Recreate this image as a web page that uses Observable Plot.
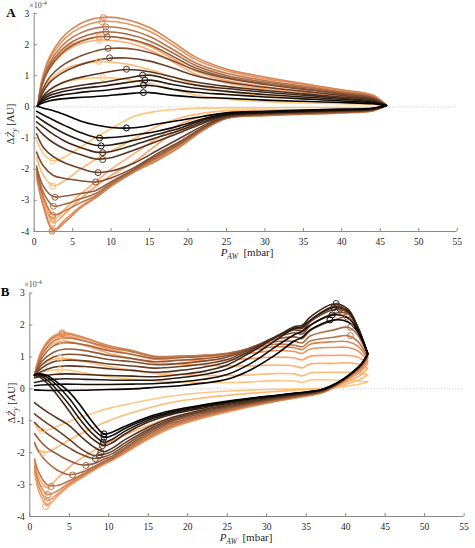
<!DOCTYPE html>
<html><head><meta charset="utf-8">
<script src="https://cdn.jsdelivr.net/npm/d3@7"></script>
<script src="https://cdn.jsdelivr.net/npm/@observablehq/plot@0.6"></script>
<style>
body{margin:0;background:#fff;}
#wrap{position:relative;width:475px;height:548px;}
.panel{position:absolute;left:0;}
#wrap svg, #wrap svg text, #wrap svg tspan{font-family:"Liberation Serif","Times New Roman",serif !important;}
</style></head><body><div id="wrap"></div>
<script>
// ---------- shared ----------
const xTicks = [0,5,10,15,20,25,30,35,40,45,50,55];
const yTicks = [-4,-3,-2,-1,0,1,2,3];

// ---------- Panel A ----------
const xUpA = [0.5, 1, 2, 3.5, 5, 7, 9, 12, 15, 18, 21, 25, 30, 35, 40, 44, 45.8];
const upperA = [
 [0.05,0.12,0.2,0.26,0.29,0.32,0.35,0.42,0.46,0.37,0.31,0.28,0.22,0.18,0.14,0.1,0.04],
 [0.06,0.17,0.29,0.38,0.43,0.49,0.53,0.62,0.69,0.57,0.47,0.4,0.32,0.26,0.19,0.13,0.05],
 [0.06,0.22,0.37,0.48,0.55,0.62,0.67,0.78,0.86,0.72,0.6,0.5,0.4,0.32,0.24,0.16,0.05],
 [0.06,0.26,0.44,0.57,0.65,0.73,0.79,0.92,1.02,0.85,0.7,0.59,0.47,0.38,0.28,0.19,0.05],
 [0.05,0.3,0.55,0.76,0.89,1.0,1.1,1.2,1.13,0.96,0.8,0.66,0.53,0.42,0.32,0.22,0.05],
 [0.05,0.4,0.78,1.07,1.26,1.43,1.54,1.57,1.47,1.25,1.0,0.8,0.63,0.5,0.37,0.25,0.05],
 [0.05,0.5,0.95,1.3,1.52,1.72,1.85,1.88,1.75,1.48,1.18,0.92,0.72,0.56,0.41,0.28,0.05],
 [0.05,0.68,1.25,1.7,1.98,2.18,2.26,2.2,2.0,1.63,1.25,0.95,0.75,0.59,0.43,0.3,0.05],
 [0.05,0.72,1.33,1.81,2.1,2.31,2.41,2.34,2.12,1.74,1.33,1.01,0.8,0.63,0.46,0.31,0.05],
 [0.05,0.77,1.41,1.93,2.24,2.47,2.57,2.5,2.26,1.85,1.41,1.08,0.85,0.67,0.49,0.33,0.05],
 [0.05,0.87,1.6,2.18,2.52,2.78,2.88,2.81,2.55,2.09,1.6,1.22,0.96,0.75,0.55,0.38,0.05],
 [0.05,0.83,1.52,2.07,2.4,2.65,2.75,2.68,2.43,1.99,1.52,1.16,0.91,0.72,0.52,0.36,0.05],
 [0.05,0.7,1.3,1.75,2.02,2.2,2.26,2.18,1.95,1.55,1.15,0.85,0.65,0.5,0.36,0.25,0.05],
 [0.05,0.66,1.22,1.66,1.92,2.1,2.15,2.07,1.83,1.45,1.05,0.77,0.58,0.45,0.32,0.22,0.05],
 [0.05,0.45,0.85,1.15,1.32,1.42,1.45,1.38,1.2,0.96,0.72,0.5,0.36,0.27,0.2,0.14,0.05],
 [0.05,0.3,0.55,0.74,0.85,0.92,0.94,0.88,0.75,0.56,0.38,0.25,0.17,0.13,0.1,0.08,0.05]
];
const xLoA = [45.8, 44, 40, 35, 30, 25, 22, 19, 16, 13, 10, 8, 6, 4, 2.5, 1.2, 0.3];
const lowerA = [
 [0.04,-0.04,-0.07,-0.1,-0.14,-0.19,-0.3,-0.43,-0.55,-0.67,-0.66,-0.58,-0.45,-0.25,-0.12,-0.04,0.03],
 [0.05,-0.05,-0.09,-0.13,-0.17,-0.23,-0.38,-0.6,-0.78,-0.9,-0.98,-0.98,-0.82,-0.6,-0.42,-0.26,-0.14],
 [0.05,-0.06,-0.1,-0.14,-0.18,-0.25,-0.42,-0.68,-0.88,-1.07,-1.22,-1.23,-1.07,-0.86,-0.66,-0.46,-0.3],
 [0.05,-0.07,-0.11,-0.15,-0.19,-0.27,-0.47,-0.75,-0.98,-1.22,-1.43,-1.45,-1.3,-1.1,-0.88,-0.65,-0.48],
 [0.05,-0.08,-0.12,-0.16,-0.2,-0.29,-0.52,-0.82,-1.1,-1.38,-1.63,-1.67,-1.53,-1.35,-1.15,-0.9,-0.65],
 [0.05,-0.09,-0.14,-0.18,-0.22,-0.32,-0.6,-1.0,-1.4,-1.8,-2.06,-2.1,-1.97,-1.8,-1.6,-1.3,-0.86],
 [0.05,-0.1,-0.15,-0.19,-0.23,-0.33,-0.65,-1.1,-1.5,-1.95,-2.28,-2.41,-2.37,-2.3,-2.2,-1.9,-1.45],
 [0.05,-0.1,-0.16,-0.2,-0.24,-0.34,-0.68,-1.15,-1.55,-2.0,-2.4,-2.68,-2.78,-2.86,-2.88,-2.55,-1.9],
 [0.05,-0.11,-0.17,-0.21,-0.25,-0.35,-0.7,-1.18,-1.6,-2.02,-2.45,-2.78,-2.95,-3.12,-3.18,-2.75,-2.0],
 [0.05,-0.12,-0.18,-0.22,-0.26,-0.36,-0.72,-1.2,-1.63,-2.05,-2.5,-2.85,-3.08,-3.33,-3.46,-2.9,-2.1],
 [0.05,-0.13,-0.19,-0.23,-0.28,-0.37,-0.75,-1.28,-1.72,-2.09,-2.55,-2.92,-3.25,-3.7,-3.98,-3.2,-2.25],
 [0.05,-0.13,-0.19,-0.23,-0.27,-0.36,-0.73,-1.25,-1.68,-2.07,-2.52,-2.88,-3.2,-3.62,-3.94,-3.15,-2.2],
 [0.05,-0.1,-0.14,-0.17,-0.2,-0.25,-0.38,-0.7,-1.2,-1.77,-2.2,-2.55,-2.95,-3.42,-3.72,-3.0,-2.1],
 [0.05,-0.08,-0.12,-0.14,-0.16,-0.2,-0.3,-0.55,-1.0,-1.5,-2.0,-2.4,-2.8,-3.28,-3.6,-2.9,-2.0],
 [0.05,-0.05,-0.07,-0.09,-0.1,-0.12,-0.2,-0.35,-0.62,-1.02,-1.42,-1.68,-2.0,-2.36,-2.53,-2.2,-1.6],
 [0.05,-0.01,-0.02,-0.02,-0.03,-0.03,-0.04,-0.07,-0.14,-0.3,-0.7,-0.98,-1.3,-1.6,-1.73,-1.5,-1.05]
];
const markUpA = [[14.2,0.46],[14.2,0.70],[14.4,0.86],[14.1,1.02],[12,1.21],[9.8,1.58],[9.6,1.88],[9.5,2.25],[9.3,2.41],[9.3,2.57],[9.0,2.87],[8.8,2.74],[8.4,2.25],[8.5,2.14],[8.4,1.46],[8.9,0.94]];
const markLoA = [[12,-0.675],[8.5,-1.0],[8.7,-1.25],[8.9,-1.47],[8.9,-1.69],[8.3,-2.11],[8.0,-2.41],[2.7,-2.9],[2.5,-3.19],[2.4,-3.48],[2.3,-3.99],[2.4,-3.95],[2.4,-3.73],[2.4,-3.6],[2.4,-2.54],[2.4,-1.74]];

// ---------- Panel B ----------
const xUpB = [0.6, 1.5, 3, 4.5, 7, 10, 13, 16, 19, 22, 25, 28, 31, 33.5, 34.5, 35.5, 38.5, 40.3, 41.5, 42.8];
const upperB = [
 [-0.03,-0.04,-0.05,-0.05,-0.04,-0.02,0.0,0.05,0.1,0.18,0.3,0.6,1.05,1.5,1.62,1.85,2.16,2.1,1.8,1.1],
 [0.1,0.12,0.14,0.15,0.14,0.14,0.15,0.17,0.22,0.3,0.45,0.8,1.3,1.7,1.8,2.0,2.32,2.22,1.85,1.1],
 [0.2,0.25,0.3,0.32,0.3,0.28,0.27,0.28,0.35,0.45,0.62,1.0,1.5,1.9,1.95,2.15,2.55,2.42,1.92,1.1],
 [0.35,0.4,0.45,0.47,0.45,0.42,0.4,0.38,0.45,0.55,0.75,1.15,1.6,1.95,2.0,2.25,2.66,2.5,1.95,1.1],
 [0.42,0.55,0.68,0.72,0.7,0.63,0.58,0.52,0.58,0.68,0.85,1.2,1.62,1.9,1.9,2.15,2.58,2.45,1.95,1.1],
 [0.42,0.65,0.85,0.9,0.88,0.78,0.72,0.65,0.7,0.78,0.92,1.25,1.62,1.85,1.82,2.1,2.48,2.4,1.95,1.1],
 [0.42,0.75,1.0,1.08,1.05,0.92,0.85,0.76,0.8,0.87,1.0,1.28,1.6,1.76,1.72,1.98,2.36,2.36,1.9,1.1],
 [0.42,0.85,1.15,1.25,1.2,1.05,0.95,0.85,0.9,0.95,1.05,1.3,1.55,1.63,1.58,1.82,2.15,2.25,1.85,1.1],
 [0.42,0.95,1.35,1.45,1.38,1.2,1.08,0.95,0.98,1.02,1.1,1.28,1.48,1.49,1.44,1.66,1.85,1.93,1.7,1.05],
 [0.42,1.05,1.5,1.6,1.5,1.3,1.16,1.0,1.02,1.05,1.12,1.25,1.4,1.37,1.32,1.5,1.62,1.67,1.5,1.0],
 [0.42,1.15,1.62,1.72,1.58,1.35,1.2,1.02,1.03,1.05,1.1,1.2,1.32,1.29,1.23,1.4,1.48,1.48,1.35,0.95],
 [0.42,1.2,1.66,1.76,1.6,1.35,1.18,1.0,1.0,1.02,1.05,1.12,1.2,1.17,1.11,1.25,1.3,1.3,1.2,0.88],
 [0.42,1.15,1.58,1.67,1.5,1.25,1.08,0.92,0.9,0.9,0.92,0.95,1.0,0.97,0.91,1.02,1.05,1.05,1.0,0.8],
 [0.42,1.05,1.42,1.5,1.35,1.12,0.95,0.8,0.78,0.75,0.72,0.72,0.75,0.72,0.66,0.78,0.8,0.82,0.78,0.65],
 [0.42,0.75,0.93,0.96,0.85,0.7,0.58,0.48,0.45,0.42,0.42,0.44,0.48,0.47,0.41,0.5,0.52,0.52,0.5,0.45],
 [0.42,0.52,0.59,0.6,0.5,0.38,0.3,0.25,0.22,0.2,0.2,0.22,0.26,0.25,0.21,0.28,0.28,0.27,0.25,0.22]
];
const xLoB = [42.8, 42, 40.5, 39, 37, 34, 30, 26, 22, 18, 15, 12, 10.5, 9.4, 8, 6.5, 5, 3.5, 2.2, 1.2, 0.6];
const lowerB = [
 [1.1,0.78,0.45,0.2,-0.02,-0.12,-0.23,-0.35,-0.5,-0.68,-0.88,-1.18,-1.35,-1.41,-1.05,-0.55,-0.1,0.2,0.42,0.47,0.43],
 [1.1,0.78,0.45,0.2,-0.02,-0.13,-0.24,-0.37,-0.53,-0.72,-0.93,-1.25,-1.45,-1.52,-1.25,-0.8,-0.3,0.1,0.36,0.46,0.44],
 [1.1,0.78,0.45,0.19,-0.03,-0.14,-0.26,-0.39,-0.56,-0.76,-0.98,-1.33,-1.57,-1.67,-1.42,-1.0,-0.5,-0.05,0.28,0.43,0.45],
 [1.1,0.78,0.44,0.19,-0.04,-0.15,-0.28,-0.42,-0.6,-0.8,-1.04,-1.42,-1.68,-1.78,-1.58,-1.2,-0.7,-0.2,0.18,0.38,0.42],
 [1.1,0.77,0.44,0.18,-0.05,-0.17,-0.31,-0.46,-0.65,-0.9,-1.2,-1.6,-1.85,-1.97,-1.8,-1.5,-1.15,-0.92,-0.72,-0.55,-0.43],
 [1.1,0.76,0.43,0.17,-0.06,-0.19,-0.33,-0.49,-0.69,-0.95,-1.27,-1.7,-1.95,-2.05,-2.08,-1.88,-1.58,-1.3,-1.08,-0.9,-0.78],
 [1.1,0.76,0.43,0.17,-0.07,-0.2,-0.35,-0.52,-0.72,-0.99,-1.33,-1.78,-2.03,-2.13,-2.18,-2.05,-1.85,-1.62,-1.4,-1.2,-1.05],
 [1.1,0.75,0.42,0.16,-0.08,-0.21,-0.37,-0.55,-0.76,-1.03,-1.38,-1.85,-2.1,-2.2,-2.35,-2.38,-2.25,-2.05,-1.85,-1.6,-1.4],
 [1.05,0.73,0.41,0.15,-0.09,-0.23,-0.39,-0.58,-0.8,-1.08,-1.43,-1.9,-2.15,-2.27,-2.45,-2.62,-2.69,-2.55,-2.3,-2.0,-1.7],
 [1.0,0.71,0.4,0.14,-0.1,-0.24,-0.41,-0.61,-0.84,-1.13,-1.48,-1.95,-2.18,-2.3,-2.5,-2.7,-2.88,-3.03,-3.0,-2.65,-2.2],
 [0.95,0.68,0.38,0.13,-0.11,-0.25,-0.43,-0.63,-0.87,-1.17,-1.53,-1.98,-2.2,-2.33,-2.52,-2.74,-2.95,-3.2,-3.31,-2.95,-2.4],
 [0.88,0.62,0.35,0.12,-0.12,-0.26,-0.44,-0.65,-0.89,-1.2,-1.56,-2.0,-2.22,-2.35,-2.55,-2.78,-3.0,-3.3,-3.5,-3.1,-2.5],
 [0.8,0.56,0.32,0.1,-0.13,-0.27,-0.45,-0.67,-0.91,-1.22,-1.58,-2.02,-2.24,-2.37,-2.57,-2.8,-3.04,-3.36,-3.66,-3.25,-2.6],
 [0.65,0.45,0.26,0.09,-0.05,-0.18,-0.32,-0.48,-0.66,-0.9,-1.15,-1.45,-1.62,-1.76,-1.95,-2.18,-2.45,-2.8,-3.1,-2.8,-2.3],
 [0.45,0.32,0.18,0.07,0.0,-0.03,-0.1,-0.18,-0.28,-0.42,-0.6,-0.82,-0.95,-1.06,-1.22,-1.4,-1.6,-1.82,-1.98,-1.95,-1.65],
 [0.22,0.16,0.1,0.05,0.02,0.0,-0.02,-0.06,-0.12,-0.22,-0.35,-0.5,-0.58,-0.65,-0.76,-0.88,-1.02,-1.17,-1.29,-1.3,-1.05]
];
const markUpB = [[38.0,2.16],[38.3,2.32],[38.5,2.55],[38.8,2.68],[38.9,2.6],[39.3,2.5],[39.6,2.4],[40.2,2.25],[40.6,1.93],[40.6,1.67],[4.1,1.72],[4.1,1.76],[4.1,1.67],[4.0,1.5],[3.8,0.96],[3.8,0.6]];
const markLoB = [[9.4,-1.41],[9.4,-1.52],[9.3,-1.67],[9.2,-1.78],[9.0,-1.99],[8.8,-2.09],[8.3,-2.19],[7.1,-2.4],[5.4,-2.7],[2.7,-3.06],[2.3,-3.32],[2.2,-3.52],[2.0,-3.69],[2.0,-3.13],[1.6,-2.02],[1.5,-1.31]];

// copper colormap (MATLAB) as a piecewise-linear colour scale
const copper = {type:"linear", domain:[0,0.8,1], range:["#000000","#ff9f65","#ffc77f"], interpolate:"rgb"};
const SERIF = '"Liberation Serif", "Times New Roman", serif';

function makePanel(cfg) {
  const n = cfg.up.length;
  const rows = [], dots = [];
  for (let k = n - 1; k >= 0; k--) {
    const t = k / (n - 1);
    cfg.xu.forEach((x, i) => rows.push({k, t, x, y: cfg.up[k][i]}));
    cfg.xl.forEach((x, i) => rows.push({k, t, x, y: cfg.lo[k][i]}));
    dots.push({t, x: cfg.mu[k][0], y: cfg.mu[k][1]});
    dots.push({t, x: cfg.ml[k][0], y: cfg.ml[k][1]});
  }
  const svg = Plot.plot({
    width: 475, height: cfg.h,
    marginLeft: cfg.ml_, marginRight: cfg.mr, marginTop: cfg.mt, marginBottom: cfg.mb,
    x: {domain: [0, 55]},
    y: {domain: [-4, 3]},
    color: copper,
    style: {fontFamily: SERIF, fontSize: "9.5px", color: "#262626", background: "transparent"},
    marks: [
      Plot.ruleY([0], {stroke: "#c8c8c8", strokeDasharray: "1.2,1.6", strokeWidth: 1}),
      Plot.line(rows, {x: "x", y: "y", z: "k", stroke: "t", strokeWidth: 1.6, curve: "catmull-rom"}),
      Plot.dot(dots, {x: "x", y: "y", stroke: "t", r: 3, strokeWidth: 1}),
      Plot.ruleX([0], {stroke: "#8a8a8a"}),
      Plot.ruleY([-4], {stroke: "#8a8a8a"}),
      Plot.axisX({ticks: xTicks, tickSize: -3, tickPadding: 10, stroke: "#8a8a8a", fill: "#262626", fontSize: 9.5, label: null}),
      Plot.axisY({ticks: yTicks, tickSize: -3, tickPadding: 8, stroke: "#8a8a8a", fill: "#262626", fontSize: 9.5, tickFormat: d => String(d), label: null})
    ]
  });
  svg.setAttribute("font-family", SERIF);
  const s = d3.select(svg);
  s.append("text").attr("x", cfg.letter[0]).attr("y", cfg.letter[1])
    .attr("font-size", 13).attr("font-weight", "bold").attr("fill", "#000").text(cfg.name);
  const e = s.append("text").attr("x", cfg.exp[0]).attr("y", cfg.exp[1]).attr("font-size", 8).attr("fill", "#444");
  e.append("tspan").text("×10");
  e.append("tspan").attr("dy", -3).attr("font-size", 6).text("-4");
  const yl = s.append("text").attr("transform", `translate(${cfg.ylab[0]},${cfg.ylab[1]}) rotate(-90)`)
    .attr("text-anchor", "middle").attr("font-size", 10.5).attr("fill", "#262626");
  yl.append("tspan").text("Δ");
  yl.append("tspan").attr("font-style", "italic").text("Ż");
  yl.append("tspan").attr("font-style", "italic").attr("font-size", 7.5).attr("dy", 2.5).text("y");
  yl.append("tspan").attr("dy", -2.5).text(" [AU]");
  const xl = s.append("text").attr("x", cfg.xlab[0]).attr("y", cfg.xlab[1])
    .attr("text-anchor", "middle").attr("font-size", 11).attr("fill", "#262626");
  xl.append("tspan").attr("font-style", "italic").text("P");
  xl.append("tspan").attr("font-style", "italic").attr("font-size", 7.5).attr("dy", 2.5).text("AW");
  xl.append("tspan").attr("dy", -2.5).text("  [mbar]");
  return svg;
}

const wrap = document.getElementById("wrap");
const divA = document.createElement("div"); divA.className = "panel"; divA.style.top = "0px";
divA.appendChild(makePanel({name: "A", h: 262, ml_: 33.7, mr: 18.3, mt: 13, mb: 31,
  xu: xUpA, up: upperA, xl: xLoA, lo: lowerA, mu: markUpA, ml: markLoA,
  letter: [11, 17], exp: [38, 8], ylab: [14, 124], xlab: [247, 256]}));
wrap.appendChild(divA);
const divB = document.createElement("div"); divB.className = "panel"; divB.style.top = "272px";
divB.appendChild(makePanel({name: "B", h: 276, ml_: 29.3, mr: 11.4, mt: 20.7, mb: 32,
  xu: xUpB, up: upperB, xl: xLoB, lo: lowerB, mu: markUpB, ml: markLoB,
  letter: [5, 24], exp: [33, 15], ylab: [15, 131], xlab: [246, 269]}));
wrap.appendChild(divB);
</script>
</body></html>
